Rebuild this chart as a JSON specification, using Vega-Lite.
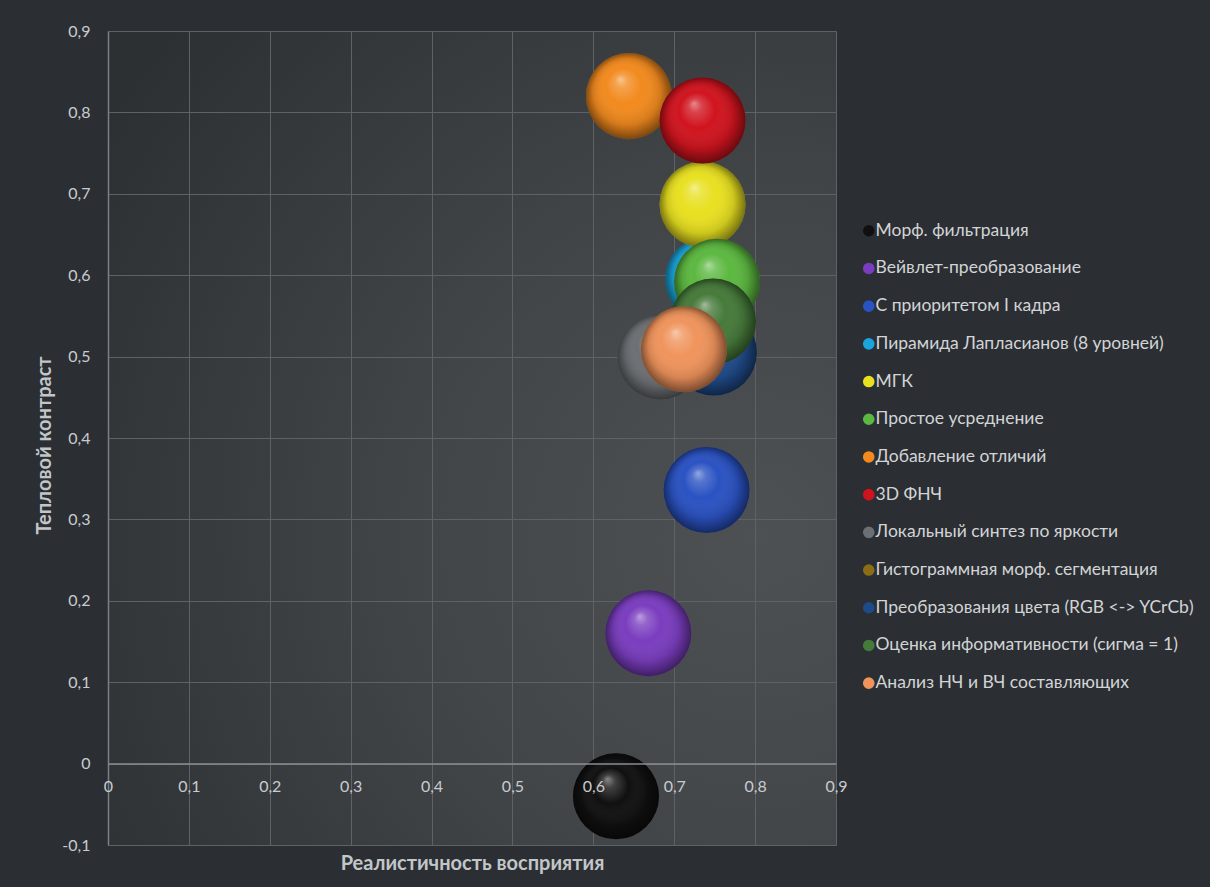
{
  "$schema": "https://vega.github.io/schema/vega-lite/v6.json",
  "width": 728,
  "height": 814,
  "autosize": {"type": "none"},
  "padding": {"left": 108, "top": 31, "right": 374, "bottom": 42},
  "background": "#2b2f33",
  "config": {
    "view": {
      "stroke": null,
      "fill": {"gradient": "radial", "x1": 0.85, "y1": 0.62, "r1": 0, "x2": 0.85, "y2": 0.62, "r2": 0.95,
        "stops": [{"offset": 0, "color": "#4e5154"}, {"offset": 0.45, "color": "#424548"}, {"offset": 1, "color": "#2c3033"}]}
    },
    "point": {"shape": "circle", "filled": true, "opacity": 1, "size": 7400, "strokeWidth": 0}
  },
  "resolve": {"axis": {"x": "independent"}},
  "data": {
    "values": [
      {"series": "Морф. фильтрация", "x": 0.628, "y": -0.04},
      {"series": "Вейвлет-преобразование", "x": 0.668, "y": 0.16},
      {"series": "С приоритетом  I кадра", "x": 0.740, "y": 0.336},
      {"series": "Пирамида Лапласианов (8 уровней)", "x": 0.742, "y": 0.595},
      {"series": "МГК", "x": 0.735, "y": 0.687},
      {"series": "Простое  усреднение", "x": 0.753, "y": 0.592},
      {"series": "Добавление отличий", "x": 0.644, "y": 0.820},
      {"series": "3D ФНЧ", "x": 0.735, "y": 0.790},
      {"series": "Локальный синтез по яркости", "x": 0.683, "y": 0.500},
      {"series": "Гистограммная морф. сегментация", "x": 0.735, "y": 0.520},
      {"series": "Преобразования цвета (RGB <-> YCrCb)", "x": 0.749, "y": 0.505},
      {"series": "Оценка информативности (сигма = 1)", "x": 0.748, "y": 0.543},
      {"series": "Анализ НЧ и ВЧ составляющих", "x": 0.712, "y": 0.509}
    ]
  },
  "encoding": {
    "x": {"field": "x", "type": "quantitative", "scale": {"domain": [0, 0.9], "nice": false, "zero": false}, "axis": null},
    "y": {
      "field": "y", "type": "quantitative",
      "scale": {"domain": [-0.1, 0.9], "nice": false, "zero": false},
      "axis": {
        "values": [-0.1, 0, 0.1, 0.2, 0.3, 0.4, 0.5, 0.6, 0.7, 0.8, 0.9],
        "format": ".1~f",
        "labelExpr": "replace(replace(datum.label, '.', ','), '−', '-')",
        "labelFlush": false,
        "labelPadding": 18,
        "labelFont": "Lato", "labelFontSize": 16, "labelColor": "#c8ccd0",
        "ticks": false,
        "domainColor": "#7c8084", "domainWidth": 1.5,
        "gridColor": "#5e6266", "gridWidth": 1,
        "title": "Тепловой контраст",
        "titleFont": "Lato", "titleFontSize": 20, "titleFontWeight": "bold", "titleColor": "#c2c6c9",
        "titleX": -64, "titleY": 414, "titleBaseline": "middle", "titleAngle": -90
      }
    },
    "color": {
      "field": "series", "type": "nominal",
      "scale": {
        "domain": ["Морф. фильтрация", "Вейвлет-преобразование", "С приоритетом  I кадра", "Пирамида Лапласианов (8 уровней)", "МГК", "Простое  усреднение", "Добавление отличий", "3D ФНЧ", "Локальный синтез по яркости", "Гистограммная морф. сегментация", "Преобразования цвета (RGB <-> YCrCb)", "Оценка информативности (сигма = 1)", "Анализ НЧ и ВЧ составляющих"],
        "range": ["#101010", "#7a3dbf", "#2a52c2", "#1aa4dc", "#e8e020", "#5cb840", "#f28a1e", "#d0141e", "#6c7074", "#8c6c14", "#1f4a88", "#467a3a", "#f0945c"]
      },
      "legend": {
        "orient": "none", "legendX": 752, "legendY": 191,
        "title": null, "padding": 0,
        "symbolType": "circle", "symbolSize": 135, "symbolStrokeWidth": 0, "symbolOpacity": 1,
        "labelFont": "Lato", "labelFontSize": 17.5, "labelColor": "#d2d4d6",
        "labelOffset": -2, "labelLimit": 400, "rowPadding": 18.7
      }
    }
  },
  "layer": [
    {"transform": [{"filter": {"field": "series", "equal": "Морф. фильтрация"}}], "mark": {"type": "point"},
     "encoding": {"x": {"field": "x", "type": "quantitative", "scale": {"domain": [0, 0.9], "nice": false, "zero": false},
       "axis": {"values": [0, 0.1, 0.2, 0.3, 0.4, 0.5, 0.6, 0.7, 0.8, 0.9], "orient": "bottom", "labels": false, "domain": false, "ticks": false, "title": null, "grid": true, "gridColor": "#5e6266", "gridWidth": 1, "zindex": 0}}}},
    {"transform": [{"filter": {"field": "series", "equal": "Морф. фильтрация"}}], "mark": {"type": "point"}, "encoding": {"color": {"value": {"gradient": "radial", "x1": 0.4, "y1": 0.3, "r1": 0, "x2": 0.5, "y2": 0.5, "r2": 0.52, "stops": [{"offset": 0, "color": "rgba(255,255,255,0.5)"}, {"offset": 0.15, "color": "rgba(255,255,255,0.2)"}, {"offset": 0.4, "color": "rgba(255,255,255,0)"}, {"offset": 0.75, "color": "rgba(0,0,0,0.12)"}, {"offset": 0.93, "color": "rgba(0,0,0,0.42)"}, {"offset": 1, "color": "rgba(0,0,0,0.55)"}]}}}},
    {"transform": [{"filter": {"field": "series", "equal": "Вейвлет-преобразование"}}], "mark": {"type": "point"}},
    {"transform": [{"filter": {"field": "series", "equal": "Вейвлет-преобразование"}}], "mark": {"type": "point"}, "encoding": {"color": {"value": {"gradient": "radial", "x1": 0.4, "y1": 0.3, "r1": 0, "x2": 0.5, "y2": 0.5, "r2": 0.52, "stops": [{"offset": 0, "color": "rgba(255,255,255,0.5)"}, {"offset": 0.15, "color": "rgba(255,255,255,0.2)"}, {"offset": 0.4, "color": "rgba(255,255,255,0)"}, {"offset": 0.75, "color": "rgba(0,0,0,0.12)"}, {"offset": 0.93, "color": "rgba(0,0,0,0.42)"}, {"offset": 1, "color": "rgba(0,0,0,0.55)"}]}}}},
    {"transform": [{"filter": {"field": "series", "equal": "С приоритетом  I кадра"}}], "mark": {"type": "point"}},
    {"transform": [{"filter": {"field": "series", "equal": "С приоритетом  I кадра"}}], "mark": {"type": "point"}, "encoding": {"color": {"value": {"gradient": "radial", "x1": 0.4, "y1": 0.3, "r1": 0, "x2": 0.5, "y2": 0.5, "r2": 0.52, "stops": [{"offset": 0, "color": "rgba(255,255,255,0.5)"}, {"offset": 0.15, "color": "rgba(255,255,255,0.2)"}, {"offset": 0.4, "color": "rgba(255,255,255,0)"}, {"offset": 0.75, "color": "rgba(0,0,0,0.12)"}, {"offset": 0.93, "color": "rgba(0,0,0,0.42)"}, {"offset": 1, "color": "rgba(0,0,0,0.55)"}]}}}},
    {"transform": [{"filter": {"field": "series", "equal": "Пирамида Лапласианов (8 уровней)"}}], "mark": {"type": "point"}},
    {"transform": [{"filter": {"field": "series", "equal": "Пирамида Лапласианов (8 уровней)"}}], "mark": {"type": "point"}, "encoding": {"color": {"value": {"gradient": "radial", "x1": 0.4, "y1": 0.3, "r1": 0, "x2": 0.5, "y2": 0.5, "r2": 0.52, "stops": [{"offset": 0, "color": "rgba(255,255,255,0.5)"}, {"offset": 0.15, "color": "rgba(255,255,255,0.2)"}, {"offset": 0.4, "color": "rgba(255,255,255,0)"}, {"offset": 0.75, "color": "rgba(0,0,0,0.12)"}, {"offset": 0.93, "color": "rgba(0,0,0,0.42)"}, {"offset": 1, "color": "rgba(0,0,0,0.55)"}]}}}},
    {"transform": [{"filter": {"field": "series", "equal": "МГК"}}], "mark": {"type": "point"}},
    {"transform": [{"filter": {"field": "series", "equal": "МГК"}}], "mark": {"type": "point"}, "encoding": {"color": {"value": {"gradient": "radial", "x1": 0.4, "y1": 0.3, "r1": 0, "x2": 0.5, "y2": 0.5, "r2": 0.52, "stops": [{"offset": 0, "color": "rgba(255,255,255,0.5)"}, {"offset": 0.15, "color": "rgba(255,255,255,0.2)"}, {"offset": 0.4, "color": "rgba(255,255,255,0)"}, {"offset": 0.75, "color": "rgba(0,0,0,0.12)"}, {"offset": 0.93, "color": "rgba(0,0,0,0.42)"}, {"offset": 1, "color": "rgba(0,0,0,0.55)"}]}}}},
    {"transform": [{"filter": {"field": "series", "equal": "Простое  усреднение"}}], "mark": {"type": "point"}},
    {"transform": [{"filter": {"field": "series", "equal": "Простое  усреднение"}}], "mark": {"type": "point"}, "encoding": {"color": {"value": {"gradient": "radial", "x1": 0.4, "y1": 0.3, "r1": 0, "x2": 0.5, "y2": 0.5, "r2": 0.52, "stops": [{"offset": 0, "color": "rgba(255,255,255,0.5)"}, {"offset": 0.15, "color": "rgba(255,255,255,0.2)"}, {"offset": 0.4, "color": "rgba(255,255,255,0)"}, {"offset": 0.75, "color": "rgba(0,0,0,0.12)"}, {"offset": 0.93, "color": "rgba(0,0,0,0.42)"}, {"offset": 1, "color": "rgba(0,0,0,0.55)"}]}}}},
    {"transform": [{"filter": {"field": "series", "equal": "Добавление отличий"}}], "mark": {"type": "point"}},
    {"transform": [{"filter": {"field": "series", "equal": "Добавление отличий"}}], "mark": {"type": "point"}, "encoding": {"color": {"value": {"gradient": "radial", "x1": 0.4, "y1": 0.3, "r1": 0, "x2": 0.5, "y2": 0.5, "r2": 0.52, "stops": [{"offset": 0, "color": "rgba(255,255,255,0.5)"}, {"offset": 0.15, "color": "rgba(255,255,255,0.2)"}, {"offset": 0.4, "color": "rgba(255,255,255,0)"}, {"offset": 0.75, "color": "rgba(0,0,0,0.12)"}, {"offset": 0.93, "color": "rgba(0,0,0,0.42)"}, {"offset": 1, "color": "rgba(0,0,0,0.55)"}]}}}},
    {"transform": [{"filter": {"field": "series", "equal": "3D ФНЧ"}}], "mark": {"type": "point"}},
    {"transform": [{"filter": {"field": "series", "equal": "3D ФНЧ"}}], "mark": {"type": "point"}, "encoding": {"color": {"value": {"gradient": "radial", "x1": 0.4, "y1": 0.3, "r1": 0, "x2": 0.5, "y2": 0.5, "r2": 0.52, "stops": [{"offset": 0, "color": "rgba(255,255,255,0.5)"}, {"offset": 0.15, "color": "rgba(255,255,255,0.2)"}, {"offset": 0.4, "color": "rgba(255,255,255,0)"}, {"offset": 0.75, "color": "rgba(0,0,0,0.12)"}, {"offset": 0.93, "color": "rgba(0,0,0,0.42)"}, {"offset": 1, "color": "rgba(0,0,0,0.55)"}]}}}},
    {"transform": [{"filter": {"field": "series", "equal": "Локальный синтез по яркости"}}], "mark": {"type": "point"}},
    {"transform": [{"filter": {"field": "series", "equal": "Локальный синтез по яркости"}}], "mark": {"type": "point"}, "encoding": {"color": {"value": {"gradient": "radial", "x1": 0.4, "y1": 0.3, "r1": 0, "x2": 0.5, "y2": 0.5, "r2": 0.52, "stops": [{"offset": 0, "color": "rgba(255,255,255,0.5)"}, {"offset": 0.15, "color": "rgba(255,255,255,0.2)"}, {"offset": 0.4, "color": "rgba(255,255,255,0)"}, {"offset": 0.75, "color": "rgba(0,0,0,0.12)"}, {"offset": 0.93, "color": "rgba(0,0,0,0.42)"}, {"offset": 1, "color": "rgba(0,0,0,0.55)"}]}}}},
    {"transform": [{"filter": {"field": "series", "equal": "Гистограммная морф. сегментация"}}], "mark": {"type": "point"}},
    {"transform": [{"filter": {"field": "series", "equal": "Гистограммная морф. сегментация"}}], "mark": {"type": "point"}, "encoding": {"color": {"value": {"gradient": "radial", "x1": 0.4, "y1": 0.3, "r1": 0, "x2": 0.5, "y2": 0.5, "r2": 0.52, "stops": [{"offset": 0, "color": "rgba(255,255,255,0.5)"}, {"offset": 0.15, "color": "rgba(255,255,255,0.2)"}, {"offset": 0.4, "color": "rgba(255,255,255,0)"}, {"offset": 0.75, "color": "rgba(0,0,0,0.12)"}, {"offset": 0.93, "color": "rgba(0,0,0,0.42)"}, {"offset": 1, "color": "rgba(0,0,0,0.55)"}]}}}},
    {"transform": [{"filter": {"field": "series", "equal": "Преобразования цвета (RGB <-> YCrCb)"}}], "mark": {"type": "point"}},
    {"transform": [{"filter": {"field": "series", "equal": "Преобразования цвета (RGB <-> YCrCb)"}}], "mark": {"type": "point"}, "encoding": {"color": {"value": {"gradient": "radial", "x1": 0.4, "y1": 0.3, "r1": 0, "x2": 0.5, "y2": 0.5, "r2": 0.52, "stops": [{"offset": 0, "color": "rgba(255,255,255,0.5)"}, {"offset": 0.15, "color": "rgba(255,255,255,0.2)"}, {"offset": 0.4, "color": "rgba(255,255,255,0)"}, {"offset": 0.75, "color": "rgba(0,0,0,0.12)"}, {"offset": 0.93, "color": "rgba(0,0,0,0.42)"}, {"offset": 1, "color": "rgba(0,0,0,0.55)"}]}}}},
    {"transform": [{"filter": {"field": "series", "equal": "Оценка информативности (сигма = 1)"}}], "mark": {"type": "point"}},
    {"transform": [{"filter": {"field": "series", "equal": "Оценка информативности (сигма = 1)"}}], "mark": {"type": "point"}, "encoding": {"color": {"value": {"gradient": "radial", "x1": 0.4, "y1": 0.3, "r1": 0, "x2": 0.5, "y2": 0.5, "r2": 0.52, "stops": [{"offset": 0, "color": "rgba(255,255,255,0.5)"}, {"offset": 0.15, "color": "rgba(255,255,255,0.2)"}, {"offset": 0.4, "color": "rgba(255,255,255,0)"}, {"offset": 0.75, "color": "rgba(0,0,0,0.12)"}, {"offset": 0.93, "color": "rgba(0,0,0,0.42)"}, {"offset": 1, "color": "rgba(0,0,0,0.55)"}]}}}},
    {"transform": [{"filter": {"field": "series", "equal": "Анализ НЧ и ВЧ составляющих"}}], "mark": {"type": "point"}},
    {"transform": [{"filter": {"field": "series", "equal": "Анализ НЧ и ВЧ составляющих"}}], "mark": {"type": "point"},
     "encoding": {
       "color": {"value": {"gradient": "radial", "x1": 0.4, "y1": 0.3, "r1": 0, "x2": 0.5, "y2": 0.5, "r2": 0.52, "stops": [{"offset": 0, "color": "rgba(255,255,255,0.5)"}, {"offset": 0.15, "color": "rgba(255,255,255,0.2)"}, {"offset": 0.4, "color": "rgba(255,255,255,0)"}, {"offset": 0.75, "color": "rgba(0,0,0,0.12)"}, {"offset": 0.93, "color": "rgba(0,0,0,0.42)"}, {"offset": 1, "color": "rgba(0,0,0,0.55)"}]}},
       "x": {"field": "x", "type": "quantitative", "scale": {"domain": [0, 0.9], "nice": false, "zero": false},
         "axis": {
           "values": [0, 0.1, 0.2, 0.3, 0.4, 0.5, 0.6, 0.7, 0.8, 0.9],
           "orient": "bottom",
           "format": ".1~f",
           "labelExpr": "replace(replace(datum.label, '.', ','), '−', '-')",
           "offset": -81.4,
           "grid": false,
           "zindex": 1,
           "labelFlush": false,
           "labelPadding": 15,
           "labelFont": "Lato", "labelFontSize": 16, "labelColor": "#c8ccd0",
           "ticks": false,
           "domainColor": "#8a8e92", "domainWidth": 1.5,
           "title": "Реалистичность восприятия",
           "titleFont": "Lato", "titleFontSize": 20, "titleFontWeight": "bold", "titleColor": "#c2c6c9",
           "titleY": 100, "titleBaseline": "middle"
         }
       }
     }}
  ]
}
